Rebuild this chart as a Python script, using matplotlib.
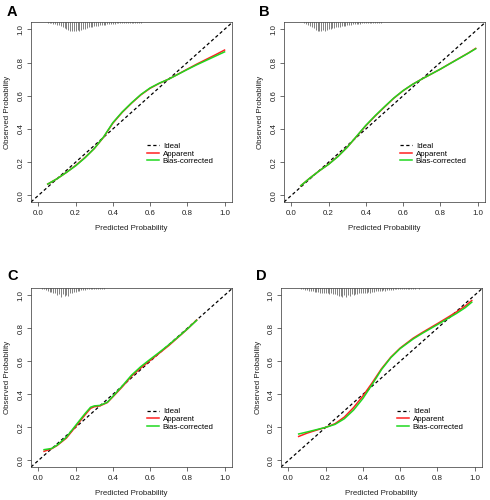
import matplotlib
matplotlib.use('Agg')
import matplotlib.pyplot as plt
import numpy as np

plt.rcParams['font.family'] = ['Liberation Sans', 'DejaVu Sans']

panel_labels = ['A', 'B', 'C', 'D']

# ---- calibration curves (predicted -> observed) ----
a_x   = [0.05, 0.10, 0.15, 0.20, 0.25, 0.30, 0.35, 0.40, 0.45, 0.50, 0.55, 0.60, 0.65, 0.70, 0.75, 0.80, 0.85, 0.90, 0.95, 1.00]
a_app = [0.068, 0.100, 0.138, 0.180, 0.228, 0.282, 0.350, 0.435, 0.500, 0.555, 0.605, 0.645, 0.675, 0.700, 0.730, 0.760, 0.790, 0.818, 0.846, 0.875]
a_bc  = [0.068, 0.100, 0.138, 0.178, 0.226, 0.282, 0.352, 0.438, 0.502, 0.557, 0.607, 0.647, 0.676, 0.700, 0.729, 0.758, 0.786, 0.812, 0.838, 0.864]

b_x   = [0.05, 0.10, 0.15, 0.20, 0.25, 0.30, 0.35, 0.40, 0.45, 0.50, 0.55, 0.60, 0.65, 0.70, 0.75, 0.80, 0.85, 0.90, 0.95, 0.99]
b_app = [0.058, 0.105, 0.148, 0.188, 0.235, 0.290, 0.355, 0.420, 0.478, 0.532, 0.585, 0.630, 0.668, 0.700, 0.730, 0.760, 0.793, 0.825, 0.857, 0.885]
b_bc  = [0.058, 0.105, 0.148, 0.187, 0.234, 0.290, 0.356, 0.422, 0.480, 0.534, 0.586, 0.631, 0.668, 0.700, 0.730, 0.760, 0.792, 0.824, 0.856, 0.883]

c_x   = [0.03, 0.07, 0.10, 0.15, 0.20, 0.25, 0.28, 0.30, 0.33, 0.37, 0.40, 0.45, 0.50, 0.55, 0.60, 0.65, 0.70, 0.75, 0.80, 0.85]
c_app = [0.055, 0.070, 0.090, 0.135, 0.205, 0.275, 0.315, 0.325, 0.330, 0.350, 0.385, 0.445, 0.510, 0.560, 0.605, 0.650, 0.695, 0.745, 0.795, 0.850]
c_bc  = [0.065, 0.072, 0.092, 0.140, 0.212, 0.283, 0.322, 0.330, 0.333, 0.352, 0.388, 0.450, 0.516, 0.568, 0.612, 0.655, 0.700, 0.747, 0.796, 0.848]

d_x   = [0.055, 0.10, 0.15, 0.20, 0.25, 0.30, 0.35, 0.40, 0.45, 0.50, 0.55, 0.60, 0.67, 0.72, 0.80, 0.85, 0.90, 0.95, 0.985]
d_app = [0.145, 0.165, 0.183, 0.200, 0.222, 0.262, 0.320, 0.390, 0.470, 0.555, 0.625, 0.680, 0.740, 0.775, 0.828, 0.862, 0.897, 0.935, 0.968]
d_bc  = [0.160, 0.172, 0.186, 0.200, 0.218, 0.252, 0.305, 0.375, 0.460, 0.550, 0.622, 0.677, 0.735, 0.770, 0.822, 0.855, 0.888, 0.925, 0.958]

# ---- rug (distribution of predictions), relative lengths ----
rug_a_start = 0.05
rug_a = [0.10, 0.15, 0.15, 0.20, 0.25, 0.30, 0.35, 0.45, 0.55, 0.70,
         0.80, 0.90, 0.95, 1.00, 0.95, 1.00, 0.90, 0.95, 0.85, 0.80,
         0.75, 0.70, 0.60, 0.55, 0.50, 0.45, 0.45, 0.40, 0.35, 0.35,
         0.30, 0.30, 0.25, 0.25, 0.20, 0.20, 0.20, 0.15, 0.15, 0.15,
         0.12, 0.12, 0.10, 0.10, 0.10, 0.08, 0.08, 0.08, 0.06, 0.06,
         0.06, 0.05, 0.05, 0.05, 0.04, 0.04, 0.04, 0.03, 0.03, 0.03,
         0.03, 0.03, 0.00, 0.03, 0.00, 0.03, 0.00, 0.03, 0.00, 0.00, 0.03]
rug_b_start = 0.07
rug_b = [0.10, 0.20, 0.30, 0.40, 0.55, 0.70, 0.85, 0.95, 1.00, 0.95,
         0.90, 1.00, 0.85, 0.80, 0.75, 0.70, 0.65, 0.60, 0.55, 0.50,
         0.45, 0.40, 0.40, 0.35, 0.30, 0.30, 0.25, 0.25, 0.20, 0.20,
         0.18, 0.15, 0.15, 0.12, 0.12, 0.10, 0.10, 0.08, 0.08, 0.06,
         0.06, 0.06, 0.05, 0.05, 0.04, 0.04, 0.04, 0.03, 0.03, 0.03,
         0.03, 0.03, 0.03, 0.03, 0.00, 0.03, 0.00, 0.03, 0.03, 0.00, 0.03]
rug_c_start = 0.02
rug_c = [0.10, 0.15, 0.20, 0.30, 0.45, 0.40, 0.60, 0.55, 0.80, 0.70,
         1.00, 0.65, 0.90, 0.75, 0.85, 0.60, 0.55, 0.45, 0.40, 0.35,
         0.30, 0.25, 0.20, 0.20, 0.15, 0.15, 0.12, 0.12, 0.10, 0.10,
         0.08, 0.08, 0.06, 0.06, 0.05, 0.05, 0.04, 0.04, 0.03, 0.03,
         0.03, 0.03, 0.03, 0.00, 0.03, 0.03, 0.00, 0.03, 0.03, 0.00,
         0.03, 0.00, 0.03, 0.00, 0.03, 0.00, 0.00, 0.03, 0.00, 0.03,
         0.00, 0.00, 0.03, 0.00, 0.00, 0.03, 0.00, 0.00, 0.03, 0.00,
         0.00, 0.00, 0.03, 0.00, 0.00, 0.00, 0.03, 0.00, 0.00, 0.00,
         0.00, 0.00, 0.00, 0.03, 0.03]
rug_d_start = 0.07
rug_d = [0.10, 0.15, 0.20, 0.20, 0.30, 0.30, 0.35, 0.40, 0.45, 0.45,
         0.50, 0.55, 0.50, 0.60, 0.55, 0.65, 0.60, 0.70, 0.65, 0.80,
         0.90, 0.85, 1.00, 0.80, 0.95, 0.75, 0.85, 0.70, 0.75, 0.65,
         0.70, 0.60, 0.55, 0.60, 0.50, 0.55, 0.45, 0.50, 0.40, 0.45,
         0.35, 0.35, 0.30, 0.30, 0.25, 0.30, 0.20, 0.25, 0.20, 0.20,
         0.15, 0.15, 0.12, 0.15, 0.10, 0.12, 0.10, 0.08, 0.08, 0.08,
         0.06, 0.06, 0.05, 0.06, 0.04, 0.05, 0.04, 0.03, 0.04, 0.03,
         0.03, 0.03, 0.00, 0.03, 0.03, 0.00, 0.03, 0.00, 0.03, 0.00,
         0.03, 0.00, 0.00, 0.03, 0.00, 0.03, 0.00, 0.03, 0.03]

panels = [
    (a_x, a_app, a_bc, rug_a_start, rug_a),
    (b_x, b_app, b_bc, rug_b_start, rug_b),
    (c_x, c_app, c_bc, rug_c_start, rug_c),
    (d_x, d_app, d_bc, rug_d_start, rug_d),
]

ticks = [0.0, 0.2, 0.4, 0.6, 0.8, 1.0]
tick_labels = ['0.0', '0.2', '0.4', '0.6', '0.8', '1.0']

W, H = 490, 500
axes_px = [  # left, top, right, bottom in pixels
    (31, 22, 232, 202),
    (284, 22, 485, 202),
    (31, 288, 232, 467),
    (281, 288, 482, 467),
]
letter_px = [(7, 12), (259, 12), (7, 276), (256, 276)]

fig = plt.figure(figsize=(W / 100, H / 100), dpi=100)

GREY = '#333333'
FS = 5.7
for i, (x, app, bc, rstart, rug) in enumerate(panels):
    l, t, r, b = axes_px[i]
    ax = fig.add_axes([l / W, 1 - b / H, (r - l) / W, (b - t) / H])
    ax.set_xlim(-0.04, 1.04)
    ax.set_ylim(-0.04, 1.044)

    ax.axline((0, 0), (1, 1), color='black', lw=0.9, dashes=(2.6, 2.0), label='Ideal', zorder=2)
    ax.plot(x, app, color='#ff2020', lw=1.1, label='Apparent', zorder=3)
    ax.plot(x, bc, color='#1fd81f', lw=1.1, label='Bias-corrected', zorder=4)

    rx = rstart + 0.01 * np.arange(len(rug))
    rl = np.array(rug) * 0.055
    top = 1.044
    keep = rl > 0
    ax.vlines(rx[keep], top - rl[keep], top, color='#808080', lw=0.7, zorder=1)

    ax.set_xticks(ticks)
    ax.set_xticklabels(tick_labels)
    ax.set_yticks(ticks)
    ax.set_yticklabels(tick_labels, rotation=90, va='center')
    ax.tick_params(axis='both', length=3, width=0.5, color=GREY, labelsize=FS,
                   labelcolor='#222222', pad=2.5)
    ax.tick_params(axis='y', pad=1.5)
    for s in ax.spines.values():
        s.set_linewidth(0.5)
        s.set_color(GREY)

    ax.set_xlabel('Predicted Probability', fontsize=FS, color='#222222')
    ax.set_ylabel('Observed Probability', fontsize=FS, color='#222222')
    h_ax = (b - t)
    w_ax = (r - l)
    ax.xaxis.set_label_coords(0.5, -26 / h_ax)
    ax.yaxis.set_label_coords(-23 / w_ax, 0.5)
    ax.xaxis.label.set_va('center')
    ax.yaxis.label.set_va('center')

    ax.legend(loc='upper left', bbox_to_anchor=(0.577, 0.33), frameon=False,
              fontsize=FS, handlelength=1.5, handletextpad=0.5, labelspacing=0.0,
              borderpad=0, borderaxespad=0)

    lx, ly = letter_px[i]
    fig.text(lx / W, 1 - ly / H, panel_labels[i], fontsize=10.5, fontweight='bold',
             ha='left', va='center')

fig.savefig('out.png', dpi=100)
